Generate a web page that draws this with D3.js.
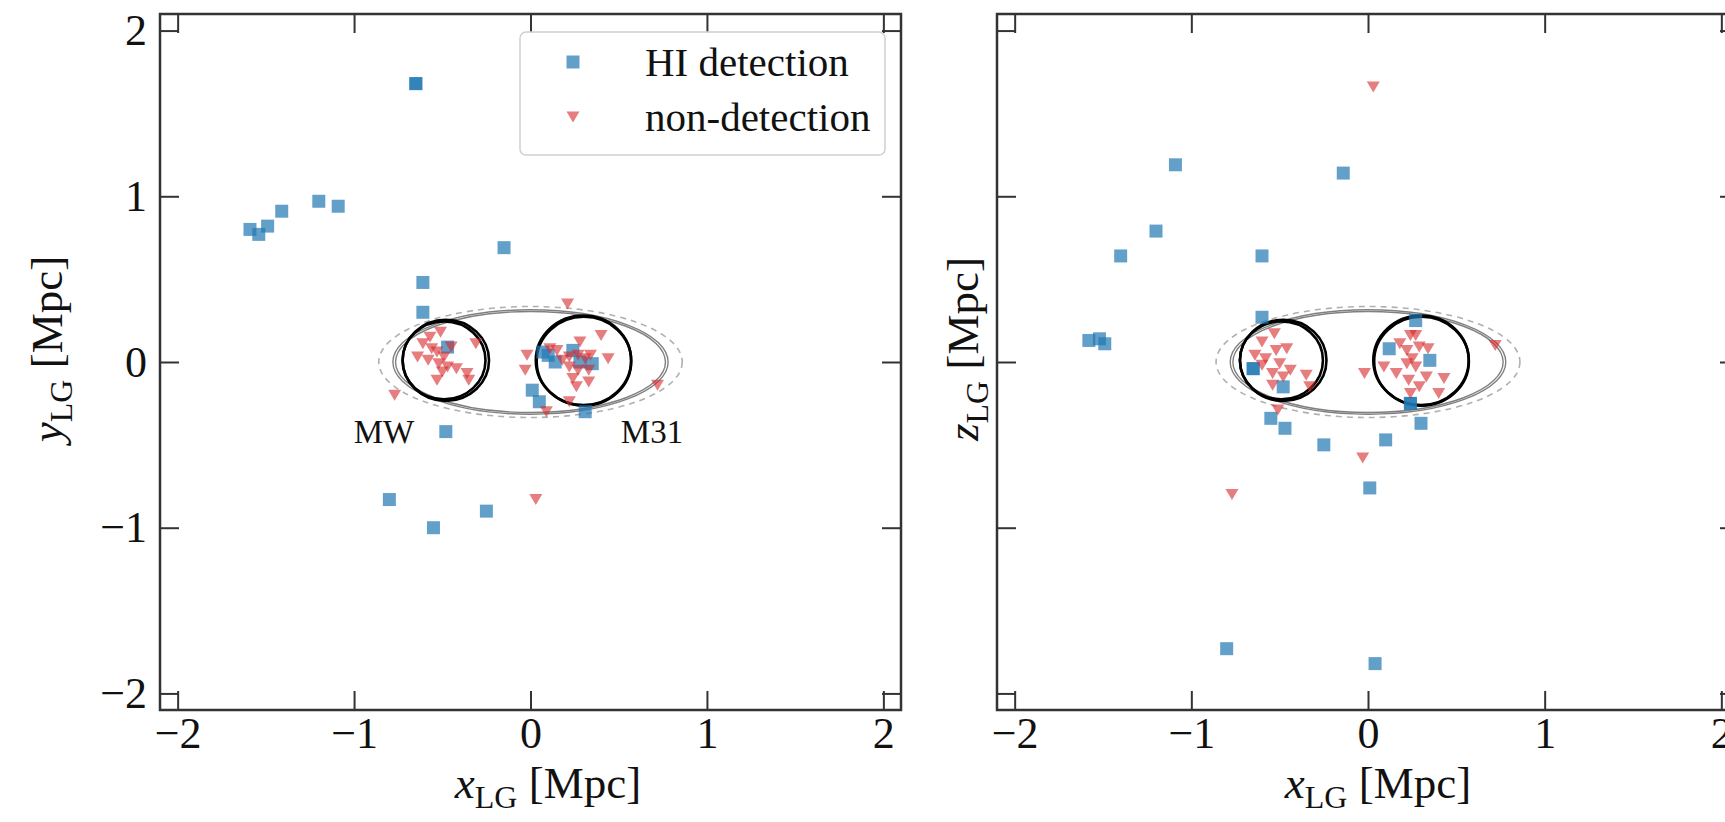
<!DOCTYPE html>
<html>
<head>
<meta charset="utf-8">
<script src="https://cdn.jsdelivr.net/npm/d3@7"></script>
<style>
  body { margin: 0; background: #fff; overflow: hidden; }
  svg { display: block; font-family: "Liberation Serif", "DejaVu Serif", serif; }
</style>
</head>
<body>
<div id="chart"></div>
<script>
// tick values shared by both panels (Mpc)
const tickValues = [-2, -1, 0, 1, 2];

// HI detections, x-y plane
const xyDetected = [
  [-1.59, 0.80], [-1.54, 0.77], [-1.49, 0.82], [-1.41, 0.91], [-1.20, 0.97], [-1.09, 0.94],
  [-0.65, 1.68], [-0.65, 1.68], [-0.61, 0.48], [-0.61, 0.30], [-0.15, 0.69], [-0.47, 0.09],
  [-0.48, -0.42], [-0.80, -0.83], [-0.55, -1.00], [-0.25, -0.90], [0.01, -0.17], [0.05, -0.24],
  [0.07, 0.06], [0.14, 0.00], [0.10, 0.04], [0.24, 0.07], [0.28, 0.00], [0.35, -0.01], [0.31, -0.30]
];
// non-detections, x-y plane
const xyNonDetected = [
  [-0.51, 0.18], [-0.61, 0.11], [-0.56, 0.08], [-0.64, 0.03], [-0.58, 0.01], [-0.53, 0.06],
  [-0.49, 0.03], [-0.52, -0.01], [-0.47, -0.03], [-0.42, -0.04], [-0.53, -0.11], [-0.36, -0.07],
  [-0.35, -0.11], [-0.31, 0.11], [-0.77, -0.20], [-0.45, 0.09], [-0.57, 0.15], [-0.50, -0.06],
  [0.21, 0.35], [0.40, 0.16], [0.44, 0.02], [0.28, 0.12], [-0.02, 0.04], [-0.03, -0.05],
  [0.11, 0.08], [0.15, 0.07], [0.18, 0.01], [0.22, 0.03], [0.27, 0.04], [0.31, 0.02],
  [0.34, 0.04], [0.22, -0.03], [0.27, -0.05], [0.33, -0.05], [0.24, -0.10], [0.33, -0.12],
  [0.26, -0.15], [0.22, -0.24], [0.72, -0.14], [0.09, -0.30], [0.03, -0.83]
];
// HI detections, x-z plane
const xzDetected = [
  [-1.58, 0.13], [-1.52, 0.14], [-1.49, 0.11], [-1.40, 0.64], [-1.20, 0.79], [-1.09, 1.19],
  [-0.65, -0.04], [-0.65, -0.04], [-0.60, 0.64], [-0.60, 0.27], [-0.14, 1.14], [-0.55, -0.34],
  [-0.47, -0.40], [-0.48, -0.15], [-0.25, -0.50], [0.10, -0.47], [0.30, -0.37], [0.01, -0.76],
  [-0.80, -1.73], [0.04, -1.82], [0.27, 0.25], [0.24, -0.25], [0.24, -0.25], [0.12, 0.08], [0.35, 0.01]
];
// non-detections, x-z plane
const xzNonDetected = [
  [0.03, 1.66], [-0.77, -0.80], [-0.03, -0.58], [-0.51, -0.29], [-0.33, -0.15],
  [-0.60, 0.12], [-0.53, 0.17], [-0.64, 0.04], [-0.58, 0.02], [-0.52, 0.07], [-0.46, 0.08],
  [-0.60, -0.02], [-0.50, -0.01], [-0.44, -0.05], [-0.54, -0.07], [-0.48, -0.09], [-0.54, -0.14],
  [-0.35, -0.08], [-0.02, -0.07], [0.09, -0.03], [0.16, -0.07], [0.18, 0.11], [0.24, 0.16],
  [0.27, 0.16], [0.22, 0.07], [0.29, 0.09], [0.34, 0.08], [0.25, 0.02], [0.22, -0.01],
  [0.27, -0.03], [0.23, -0.11], [0.33, -0.09], [0.43, -0.10], [0.29, -0.15], [0.40, -0.19],
  [0.24, -0.19], [0.72, 0.10]
];

// virial spheres: [centre x, centre y/z, radius] in Mpc
const mwRings = [[-0.49, 0.01, 0.235], [-0.48, 0.01, 0.245]];
const m31Rings = [[0.30, 0.01, 0.27], [0.303, 0.005, 0.268]];
// LG ellipsoid outlines: [semi-major, semi-minor]
const lgSolid = [[0.78, 0.315], [0.765, 0.305]];
const lgDashed = [[0.86, 0.335]];

const legendItems = ["HI detection", "non-detection"];

const W = 1725, H = 822, yTop = 14, yBottom = 710;
const blue = "#1f77b4", red = "#d62728";

const svg = d3.select("#chart").append("svg")
  .attr("width", W)
  .attr("height", H);

const panels = [
  { left: 160, right: 901, det: xyDetected, non: xyNonDetected, axis: "y", labels: true, xLabelX: 548, yLabelX: 62 },
  { left: 997, right: 1739, det: xzDetected, non: xzNonDetected, axis: "z", labels: false, xLabelX: 1378, yLabelX: 978 }
];

const triangle = (w, h) => "M" + (-w / 2) + "," + (-h / 2) + "L" + (w / 2) + "," + (-h / 2) + "L0," + (h / 2) + "Z";
const square = d3.symbol(d3.symbolSquare, 169)();
const tri = triangle(13, 11);

panels.forEach(p => {
  const x = d3.scaleLinear().domain([-2.1, 2.1]).range([p.left, p.right]);
  const y = d3.scaleLinear().domain([-2.1, 2.1]).range([yBottom, yTop]);
  const g = svg.append("g");

  // ellipses first, markers on top
  const shapes = g.append("g");
  shapes.selectAll(".dash").data(lgDashed).enter().append("ellipse")
    .attr("cx", x(0)).attr("cy", y(0))
    .attr("rx", d => x(d[0]) - x(0)).attr("ry", d => y(0) - y(d[1]))
    .attr("fill", "none").attr("stroke", "#b0b0b0").attr("stroke-width", 1.6)
    .attr("stroke-dasharray", "6,5");
  shapes.selectAll(".solid").data(lgSolid).enter().append("ellipse")
    .attr("cx", x(0)).attr("cy", y(0))
    .attr("rx", d => x(d[0]) - x(0)).attr("ry", d => y(0) - y(d[1]))
    .attr("fill", "none").attr("stroke", "#808080").attr("stroke-width", 1.4);
  shapes.selectAll(".ring").data(mwRings.concat(m31Rings)).enter().append("ellipse")
    .attr("cx", d => x(d[0])).attr("cy", d => y(d[1]))
    .attr("rx", d => x(d[2]) - x(0)).attr("ry", d => y(0) - y(d[2]))
    .attr("fill", "none").attr("stroke", "#000").attr("stroke-width", 2.6);

  g.selectAll(".det").data(p.det).enter().append("path")
    .attr("d", square)
    .attr("transform", d => "translate(" + x(d[0]) + "," + y(d[1]) + ")")
    .attr("fill", blue).attr("fill-opacity", 0.7);
  g.selectAll(".non").data(p.non).enter().append("path")
    .attr("d", tri)
    .attr("transform", d => "translate(" + x(d[0]) + "," + y(d[1]) + ")")
    .attr("fill", red).attr("fill-opacity", 0.6);

  // axes, ticks pointing in
  const fmt = p.labels ? d3.format("") : () => "";
  const axes = [
    [d3.axisBottom(x).tickFormat(d3.format("")), "translate(0," + yBottom + ")"],
    [d3.axisTop(x).tickFormat(""), "translate(0," + yTop + ")"],
    [d3.axisLeft(y).tickFormat(fmt), "translate(" + p.left + ",0)"],
    [d3.axisRight(y).tickFormat(""), "translate(" + p.right + ",0)"]
  ];
  axes.forEach((a, i) => {
    const ax = svg.append("g")
      .attr("transform", a[1])
      .call(a[0].tickValues(tickValues).tickSize(-19).tickSizeOuter(0).tickPadding(i == 0 ? 7 : 13));
    ax.select(".domain").remove();
    ax.selectAll("line").attr("stroke", "#333").attr("stroke-width", 2);
    ax.selectAll("text").attr("font-size", 44).attr("fill", "#111")
      .attr("font-family", "Liberation Serif, serif");
  });

  svg.append("rect")
    .attr("x", p.left).attr("y", yTop)
    .attr("width", p.right - p.left).attr("height", yBottom - yTop)
    .attr("fill", "none").attr("stroke", "#333").attr("stroke-width", 2.5);

  // axis labels
  const xl = svg.append("text")
    .attr("x", p.xLabelX).attr("y", 798)
    .attr("text-anchor", "middle").attr("font-size", 45).attr("fill", "#111");
  xl.append("tspan").attr("font-style", "italic").text("x");
  xl.append("tspan").attr("font-size", 32).attr("dy", 10).text("LG");
  xl.append("tspan").attr("dy", -10).text(" [Mpc]");

  const yl = svg.append("text")
    .attr("transform", "translate(" + p.yLabelX + ",349) rotate(-90)")
    .attr("text-anchor", "middle").attr("font-size", 45).attr("fill", "#111");
  yl.append("tspan").attr("font-style", "italic").text(p.axis);
  yl.append("tspan").attr("font-size", 32).attr("dy", 10).text("LG");
  yl.append("tspan").attr("dy", -10).text(" [Mpc]");

  if (p.labels) {
    svg.append("text").attr("x", 384).attr("y", 443).attr("text-anchor", "middle")
      .attr("font-size", 33).attr("fill", "#111").text("MW");
    svg.append("text").attr("x", 652).attr("y", 443).attr("text-anchor", "middle")
      .attr("font-size", 33).attr("fill", "#111").text("M31");

    const legend = svg.append("g").attr("id", "legend");
    legend.append("rect")
      .attr("x", 520).attr("y", 32).attr("width", 365).attr("height", 123)
      .attr("rx", 6).attr("fill", "#fff").attr("fill-opacity", 0.8)
      .attr("stroke", "#d0d0d0").attr("stroke-width", 1.5);
    legend.selectAll("path").data(legendItems).enter().append("path")
      .attr("d", (d, i) => i == 0 ? square : tri)
      .attr("transform", (d, i) => "translate(573," + (62 + i * 55) + ")")
      .attr("fill", (d, i) => i == 0 ? blue : red)
      .attr("fill-opacity", (d, i) => i == 0 ? 0.7 : 0.6);
    legend.selectAll("text").data(legendItems).enter().append("text")
      .attr("x", 645).attr("y", (d, i) => 76 + i * 55)
      .attr("font-size", 41).attr("fill", "#111")
      .text(d => d);
  }
});
</script>
</body>
</html>
